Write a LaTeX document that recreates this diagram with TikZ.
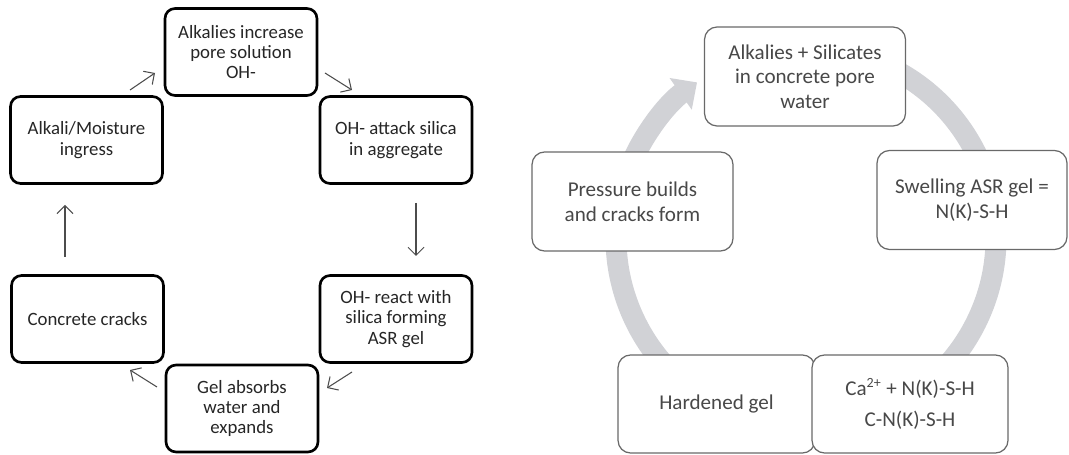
\documentclass[tikz,border=0pt]{standalone}
\usepackage{fontspec}
\setmainfont{Carlito}
\usetikzlibrary{arrows.meta}
\definecolor{cyclegray}{RGB}{209,210,214}
\definecolor{boxgray}{RGB}{105,105,105}
\definecolor{textgray}{RGB}{72,72,72}

\begin{document}
\begin{tikzpicture}[x=0.02cm, y=-0.02cm,
    stepbox/.style={draw=black, line width=1.5pt, rounded corners=0.2cm, fill=white,
        align=center, inner sep=0pt, minimum width=3.04cm, minimum height=1.74cm,
        text=black!85, font=\fontsize{10.7}{11.6}\selectfont},
    gelbox/.style={draw=boxgray, line width=0.7pt, rounded corners=0.25cm, fill=white,
        align=center, inner sep=0pt, minimum width=4.02cm, minimum height=1.98cm,
        text=textgray, font=\fontsize{12}{14}\selectfont},
    flow/.style={-{Straight Barb[length=1.6mm,width=3.2mm]}, draw=black!70, line width=0.6pt}
]
    \useasboundingbox (0,0) rectangle (1069,455);
    % Definitions
    \coordinate (ctr)   at (806,238);   % centre of the grey cycle
    \coordinate (inS)   at (130,90);
    \coordinate (inE)   at (155,73);
    \coordinate (atS)   at (325,73);
    \coordinate (atE)   at (352,90);
    \coordinate (reS)   at (416,203);
    \coordinate (reE)   at (416,256);
    \coordinate (geS)   at (352,372);
    \coordinate (geE)   at (327,388);
    \coordinate (crS)   at (157,387);
    \coordinate (crE)   at (130,370);
    \coordinate (upS)   at (65,257);
    \coordinate (upE)   at (65,205);
    % Left cycle
    \node[stepbox] (inc)     at (241,52)    {Alkalies increase\\pore solution\\OH-};
    \node[stepbox] (ingress) at (86.5,140)  {Alkali/Moisture\\ingress};
    \node[stepbox] (attack)  at (396,140)   {OH- attack silica\\in aggregate};
    \node[stepbox] (react)   at (396,319)   {OH- react with\\silica forming\\ASR gel};
    \node[stepbox] (gel)     at (242,408.5) {Gel absorbs\\water and\\expands};
    \node[stepbox] (cracks)  at (87.5,319)  {Concrete cracks};
    \draw[flow] (inS) -- (inE);
    \draw[flow] (atS) -- (atE);
    \draw[flow] (reS) -- (reE);
    \draw[flow] (geS) -- (geE);
    \draw[flow] (crS) -- (crE);
    \draw[flow] (upS) -- (upE);
    % Right cycle, grey ring first
    \draw[cyclegray, line width=0.42cm, -{Triangle[length=0.4cm,width=0.75cm]}]
        (ctr) ++(65:3.8cm) arc[start angle=65, end angle=-235, radius=3.8cm];
    \node[gelbox] (alk)      at (805,76.5)  {Alkalies + Silicates\\in concrete pore\\water};
    \node[gelbox] (swell)    at (972,200)   [minimum width=3.8cm] {Swelling ASR gel =\\N(K)-S-H};
    \node[gelbox] (hard)     at (716.5,404) [minimum width=3.94cm, minimum height=1.96cm] {Hardened gel};
    \node[gelbox] (ca)       at (910,404)   [minimum width=3.92cm, minimum height=1.96cm] {Ca\textsuperscript{2+} + N(K)-S-H\\[4pt]C-N(K)-S-H};
    \node[gelbox] (pressure) at (632.5,201.5) {Pressure builds\\and cracks form};
\end{tikzpicture}
\end{document}
